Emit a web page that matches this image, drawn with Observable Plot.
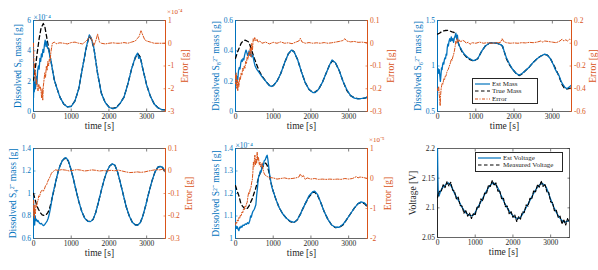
<!DOCTYPE html>
<html><head><meta charset="utf-8">
<script src="https://cdn.jsdelivr.net/npm/d3@7"></script>
<script src="https://cdn.jsdelivr.net/npm/@observablehq/plot@0.6"></script>
<style>
body{margin:0;background:#fff;}
#root{position:relative;width:598px;height:270px;overflow:hidden;background:#fff;font-family:"Liberation Serif",serif;}
#root svg.plot-layer{position:absolute;left:0;top:0;font-family:"Liberation Serif",serif !important;}
#root svg.plot-layer text, #root svg.plot-layer tspan, #root svg.plot-layer g{font-family:"Liberation Serif",serif !important;font-weight:normal !important;}
.lg{position:absolute;background:#fff;border:0.8px solid #262626;font:7px "Liberation Serif",serif;color:#262626;box-sizing:border-box;padding:1px 2px;z-index:5;}
.lg .row{display:flex;align-items:center;height:7.6px;white-space:nowrap;}
.lg svg{margin-right:2px;}
</style></head><body><div id="root"></div>
<script>
// ---------- data ----------
const xTicks = [0, 1000, 2000, 3000];
const xDomain = [0, 3500];

// Panel 1: S8 (x1e-4 g), error (x1e-4 g)
const p1True = [[0,2.0],[50,2.9],[100,3.9],[150,4.8],[200,5.5],[260,5.8],[300,5.6],[350,4.9],[400,4.2],[450,3.5],[500,2.8],[550,2.1],[600,1.7],[700,0.95],[800,0.5],[900,0.3],[1000,0.35],[1100,0.7],[1200,1.5],[1300,2.9],[1400,4.2],[1470,4.95],[1530,4.8],[1600,4.2],[1700,2.5],[1800,1.2],[1900,0.6],[2000,0.3],[2100,0.2],[2200,0.28],[2300,0.55],[2400,0.95],[2500,1.8],[2600,2.8],[2700,3.55],[2770,3.8],[2830,3.6],[2900,2.8],[3000,1.75],[3100,1.0],[3200,0.5],[3300,0.25],[3400,0.12],[3500,0.1]];
const p1Est = [[0,0.9],[10,2.0],[20,1.3],[35,1.9],[50,1.5],[70,2.3],[90,1.8],[110,2.7],[130,3.0],[150,2.8],[170,3.5],[190,3.3],[210,3.8],[230,3.6],[250,4.1],[270,3.9],[290,4.4],[310,4.7],[330,4.3],[350,4.6],[370,4.2],[400,4.1],[430,3.7],[460,3.4],[500,2.8],[550,2.1],[600,1.7],[700,0.95],[800,0.5],[900,0.3],[1000,0.33],[1100,0.7],[1200,1.5],[1300,2.9],[1400,4.25],[1480,5.05],[1530,4.85],[1600,4.2],[1700,2.5],[1800,1.2],[1900,0.6],[2000,0.28],[2100,0.18],[2200,0.26],[2300,0.55],[2400,0.95],[2500,1.8],[2600,2.8],[2700,3.6],[2760,3.85],[2790,3.5],[2820,3.6],[2850,3.35],[2900,2.8],[3000,1.75],[3100,1.0],[3200,0.5],[3300,0.25],[3400,0.12],[3500,0.1]];
const p1Err = [[0,0.0],[8,-0.6],[15,-1.1],[25,-0.9],[40,-1.5],[55,-1.3],[70,-1.8],[85,-1.6],[100,-2.0],[120,-2.1],[140,-1.8],[160,-2.0],[180,-1.9],[200,-2.1],[215,-2.4],[230,-2.0],[245,-2.5],[260,-1.9],[280,-1.6],[300,-1.3],[320,-1.5],[340,-1.0],[360,-1.2],[380,-0.8],[400,-1.0],[420,-0.7],[440,-0.8],[460,-0.4],[480,-0.2],[500,0.0],[550,0.05],[600,-0.02],[700,0.02],[800,0.0],[900,-0.03],[1000,0.03],[1100,0.05],[1200,0.0],[1300,-0.03],[1400,0.1],[1450,0.2],[1500,0.3],[1550,0.15],[1600,-0.1],[1650,0.1],[1700,0.4],[1750,0.05],[1800,0.0],[1900,-0.03],[2000,0.0],[2100,0.02],[2200,0.0],[2300,0.0],[2400,0.03],[2500,0.0],[2600,0.05],[2700,0.1],[2750,0.2],[2800,0.3],[2850,0.55],[2900,0.35],[2950,0.15],[3000,0.1],[3100,0.05],[3200,0.0],[3300,0.0],[3400,0.0],[3500,0.0]];

// Panel 2: S8 2- (g)
const p2True = [[0,0.35],[50,0.39],[100,0.42],[150,0.45],[200,0.465],[250,0.47],[300,0.465],[340,0.46],[380,0.44],[420,0.41],[460,0.38],[500,0.35],[560,0.31],[620,0.27],[700,0.235],[800,0.2],[900,0.172],[950,0.167],[1000,0.17],[1100,0.2],[1200,0.25],[1300,0.32],[1400,0.38],[1490,0.405],[1550,0.395],[1650,0.34],[1750,0.26],[1850,0.19],[1950,0.145],[2050,0.127],[2100,0.126],[2200,0.145],[2300,0.19],[2400,0.25],[2500,0.31],[2570,0.335],[2650,0.32],[2750,0.27],[2850,0.2],[2950,0.14],[3050,0.105],[3150,0.09],[3250,0.085],[3350,0.085],[3450,0.09],[3500,0.095]];
const p2Est = [[0,0.2],[15,0.24],[30,0.19],[45,0.23],[60,0.21],[80,0.27],[100,0.29],[120,0.28],[140,0.32],[160,0.34],[180,0.33],[200,0.35],[220,0.34],[240,0.37],[260,0.39],[280,0.405],[300,0.39],[320,0.37],[340,0.38],[360,0.4],[380,0.37],[400,0.39],[430,0.36],[460,0.37],[490,0.33],[520,0.3],[560,0.28],[620,0.26],[700,0.23],[800,0.2],[900,0.17],[950,0.165],[1000,0.17],[1100,0.2],[1200,0.25],[1300,0.32],[1400,0.38],[1480,0.405],[1550,0.395],[1650,0.34],[1750,0.26],[1850,0.19],[1950,0.145],[2050,0.125],[2100,0.124],[2200,0.145],[2300,0.19],[2400,0.25],[2500,0.31],[2560,0.34],[2650,0.322],[2750,0.27],[2850,0.2],[2950,0.145],[3050,0.105],[3150,0.088],[3250,0.083],[3350,0.086],[3450,0.09],[3500,0.095]];
const p2Err = [[0,-0.14],[10,-0.18],[20,-0.13],[35,-0.2],[50,-0.16],[60,-0.21],[75,-0.17],[90,-0.19],[110,-0.15],[130,-0.16],[150,-0.13],[170,-0.14],[190,-0.11],[210,-0.12],[230,-0.1],[250,-0.11],[270,-0.08],[290,-0.09],[310,-0.06],[330,-0.07],[350,-0.04],[370,-0.05],[390,-0.02],[410,-0.06],[430,0.0],[450,-0.03],[470,0.02],[490,0.01],[510,0.025],[540,0.01],[570,0.018],[600,0.005],[650,0.01],[700,0.0],[800,0.005],[900,-0.003],[1000,0.004],[1100,0.0],[1200,0.006],[1300,0.0],[1400,0.002],[1500,-0.002],[1600,0.005],[1680,0.01],[1720,0.022],[1760,0.006],[1850,0.0],[1950,0.003],[2050,0.0],[2150,0.002],[2250,0.0],[2350,0.003],[2450,0.0],[2550,0.002],[2650,0.005],[2750,0.008],[2850,0.012],[2900,0.02],[2950,0.01],[3050,0.006],[3150,0.008],[3250,0.004],[3350,0.005],[3500,0.002]];

// Panel 3: S6 2- (g)
const p3True = [[0,1.35],[50,1.36],[100,1.375],[150,1.385],[200,1.39],[260,1.392],[320,1.385],[380,1.375],[430,1.37],[480,1.33],[530,1.27],[580,1.21],[650,1.15],[750,1.1],[850,1.07],[950,1.055],[1050,1.08],[1150,1.16],[1250,1.22],[1350,1.25],[1450,1.255],[1550,1.25],[1650,1.235],[1700,1.215],[1750,1.15],[1800,1.08],[1870,1.02],[1950,0.97],[2050,0.92],[2130,0.895],[2200,0.91],[2300,0.95],[2400,0.99],[2500,1.04],[2600,1.08],[2700,1.11],[2800,1.125],[2870,1.12],[2950,1.08],[3050,1.0],[3150,0.91],[3250,0.8],[3320,0.75],[3400,0.75],[3500,0.76]];
const p3Est = [[0,0.95],[15,0.97],[30,0.92],[45,0.96],[60,0.9],[75,0.83],[90,0.9],[105,0.98],[120,0.96],[135,1.02],[150,1.04],[165,1.02],[180,1.07],[195,1.09],[210,1.08],[225,1.13],[240,1.12],[255,1.2],[270,1.24],[285,1.22],[300,1.27],[320,1.3],[340,1.27],[360,1.32],[380,1.28],[400,1.3],[420,1.26],[440,1.31],[460,1.33],[480,1.36],[500,1.3],[520,1.34],[540,1.26],[570,1.22],[600,1.2],[650,1.16],[700,1.13],[750,1.11],[800,1.09],[850,1.08],[900,1.065],[950,1.06],[1050,1.08],[1150,1.16],[1250,1.22],[1350,1.25],[1450,1.255],[1550,1.25],[1650,1.235],[1700,1.22],[1750,1.15],[1800,1.09],[1870,1.03],[1950,0.97],[2050,0.92],[2130,0.9],[2200,0.915],[2300,0.95],[2400,0.99],[2500,1.04],[2600,1.08],[2700,1.11],[2800,1.13],[2870,1.12],[2950,1.08],[3030,1.01],[3080,0.96],[3120,0.93],[3170,0.9],[3220,0.84],[3270,0.8],[3320,0.77],[3380,0.75],[3440,0.77],[3500,0.79]];
const p3Err = [[0,-0.4],[15,-0.42],[30,-0.38],[45,-0.45],[60,-0.5],[70,-0.55],[80,-0.46],[95,-0.4],[110,-0.37],[125,-0.35],[140,-0.36],[155,-0.33],[170,-0.31],[185,-0.32],[200,-0.29],[220,-0.29],[240,-0.26],[260,-0.24],[280,-0.23],[300,-0.21],[320,-0.19],[340,-0.17],[360,-0.14],[380,-0.15],[400,-0.12],[420,-0.1],[440,-0.07],[460,-0.03],[480,0.02],[500,0.0],[520,0.04],[540,0.01],[570,0.03],[600,0.01],[650,0.025],[700,0.02],[750,0.0],[800,0.01],[850,-0.01],[900,0.005],[1000,0.0],[1100,0.01],[1200,0.0],[1300,0.005],[1400,0.0],[1500,0.003],[1600,0.005],[1650,0.01],[1690,0.04],[1730,0.015],[1800,0.005],[1900,0.0],[2000,0.003],[2100,0.0],[2200,0.005],[2300,0.003],[2400,0.008],[2500,0.005],[2600,0.01],[2700,0.02],[2750,0.01],[2800,0.02],[2900,0.015],[3000,0.01],[3100,0.005],[3200,0.02],[3250,0.035],[3300,0.02],[3350,0.03],[3400,0.02],[3450,0.035],[3500,0.03]];

// Panel 4: S4 2- (g)
const p4True = [[0,1.0],[40,0.95],[80,0.9],[130,0.86],[180,0.83],[230,0.81],[280,0.805],[330,0.81],[380,0.83],[420,0.86],[460,0.91],[500,0.97],[550,1.04],[600,1.12],[650,1.19],[700,1.245],[760,1.29],[820,1.31],[860,1.312],[920,1.29],[980,1.23],[1050,1.14],[1120,1.04],[1200,0.93],[1280,0.84],[1360,0.78],[1440,0.755],[1510,0.752],[1580,0.77],[1650,0.83],[1720,0.92],[1800,1.03],[1880,1.13],[1950,1.2],[2020,1.245],[2090,1.262],[2160,1.25],[2230,1.19],[2300,1.1],[2380,0.99],[2460,0.88],[2540,0.8],[2620,0.745],[2700,0.722],[2760,0.72],[2830,0.74],[2900,0.8],[2980,0.9],[3060,1.01],[3140,1.11],[3220,1.19],[3300,1.235],[3360,1.242],[3420,1.23],[3470,1.2],[3500,1.18]];
const p4Est = [[0,0.95],[10,0.78],[20,0.86],[30,0.72],[45,0.8],[60,0.76],[80,0.77],[100,0.75],[120,0.76],[150,0.74],[180,0.73],[210,0.735],[240,0.72],[270,0.715],[300,0.725],[330,0.74],[360,0.755],[390,0.78],[420,0.82],[450,0.87],[480,0.93],[510,0.99],[550,1.05],[600,1.12],[650,1.19],[700,1.245],[760,1.29],[820,1.315],[860,1.318],[920,1.295],[980,1.23],[1050,1.14],[1120,1.04],[1200,0.93],[1280,0.84],[1360,0.78],[1440,0.752],[1510,0.75],[1580,0.77],[1650,0.83],[1720,0.92],[1800,1.03],[1880,1.13],[1950,1.2],[2020,1.245],[2090,1.265],[2160,1.25],[2230,1.19],[2300,1.1],[2380,0.99],[2460,0.88],[2540,0.8],[2620,0.745],[2700,0.72],[2760,0.718],[2830,0.74],[2900,0.8],[2980,0.9],[3060,1.01],[3140,1.11],[3220,1.19],[3300,1.235],[3360,1.24],[3420,1.235],[3470,1.21],[3500,1.19]];
const p4Err = [[0,-0.13],[8,-0.2],[16,-0.15],[25,-0.21],[35,-0.17],[50,-0.19],[65,-0.15],[80,-0.16],[100,-0.14],[120,-0.13],[140,-0.11],[160,-0.115],[180,-0.1],[200,-0.09],[230,-0.085],[260,-0.09],[290,-0.08],[320,-0.065],[350,-0.06],[380,-0.045],[410,-0.035],[440,-0.025],[470,-0.012],[500,-0.005],[540,0.0],[580,0.005],[650,0.003],[750,0.006],[850,0.004],[950,0.0],[1050,0.003],[1150,0.006],[1250,0.004],[1350,0.0],[1450,0.002],[1550,0.005],[1650,0.003],[1750,0.0],[1850,0.002],[1950,0.0],[2050,0.003],[2150,0.001],[2250,0.004],[2350,0.0],[2450,-0.004],[2550,-0.007],[2650,-0.006],[2750,-0.004],[2850,-0.006],[2950,-0.004],[3050,0.0],[3150,0.003],[3250,0.006],[3350,0.005],[3420,0.008],[3500,0.004]];

// Panel 5: S 2- (x1e-4 g), error (x1e-5 g)
const p5True = [[0,1.235],[45,1.21],[90,1.19],[135,1.16],[180,1.145],[230,1.135],[270,1.13],[320,1.135],[360,1.145],[400,1.16],[440,1.175],[490,1.2],[530,1.22],[580,1.25],[620,1.275],[670,1.3],[710,1.315],[760,1.33],[800,1.335],[840,1.325],[880,1.3],[930,1.255],[1000,1.21],[1070,1.175],[1150,1.14],[1250,1.11],[1350,1.09],[1450,1.075],[1550,1.07],[1650,1.085],[1750,1.12],[1850,1.155],[1950,1.185],[2050,1.205],[2100,1.206],[2180,1.19],[2260,1.16],[2350,1.12],[2450,1.085],[2550,1.06],[2650,1.048],[2750,1.05],[2850,1.06],[2950,1.085],[3050,1.11],[3150,1.135],[3250,1.155],[3330,1.16],[3420,1.155],[3500,1.14]];
const p5Est = [[0,1.05],[15,1.055],[30,1.045],[50,1.052],[70,1.04],[90,1.035],[110,1.05],[130,1.047],[150,1.055],[170,1.05],[200,1.06],[230,1.058],[260,1.065],[290,1.063],[320,1.07],[350,1.066],[380,1.08],[400,1.1],[420,1.095],[440,1.11],[460,1.12],[480,1.125],[500,1.13],[520,1.14],[540,1.15],[560,1.19],[580,1.22],[600,1.26],[620,1.28],[640,1.285],[660,1.3],[680,1.295],[700,1.32],[720,1.33],[740,1.325],[760,1.345],[790,1.35],[820,1.365],[840,1.37],[860,1.35],[880,1.32],[900,1.29],[930,1.26],[960,1.23],[1000,1.21],[1070,1.175],[1150,1.14],[1250,1.11],[1350,1.09],[1450,1.077],[1550,1.072],[1620,1.08],[1660,1.09],[1690,1.1],[1720,1.105],[1750,1.12],[1850,1.155],[1950,1.19],[2050,1.208],[2100,1.21],[2180,1.195],[2260,1.16],[2350,1.12],[2450,1.085],[2550,1.06],[2650,1.05],[2750,1.05],[2850,1.063],[2950,1.085],[3050,1.11],[3150,1.135],[3250,1.155],[3330,1.163],[3420,1.158],[3500,1.145]];
const p5Err = [[0,-1.55],[15,-1.45],[30,-1.5],[50,-1.38],[70,-1.42],[90,-1.3],[110,-1.33],[130,-1.22],[150,-1.25],[170,-1.12],[190,-1.15],[210,-1.02],[230,-1.05],[250,-0.92],[270,-0.95],[290,-0.85],[310,-0.79],[330,-0.6],[350,-0.46],[370,-0.5],[390,-0.35],[410,-0.3],[430,-0.12],[445,-0.05],[460,0.2],[475,0.55],[490,0.4],[505,0.7],[515,0.78],[530,0.45],[545,0.65],[560,0.5],[575,0.88],[590,0.6],[610,0.7],[630,0.45],[650,0.55],[670,0.38],[690,0.5],[710,0.52],[730,0.3],[750,0.2],[780,0.12],[800,0.1],[850,0.06],[900,0.03],[1000,0.02],[1100,-0.02],[1200,0.0],[1300,0.02],[1400,-0.01],[1500,0.0],[1600,0.02],[1680,0.05],[1720,0.15],[1760,0.05],[1800,0.1],[1850,-0.03],[1900,0.02],[2000,-0.02],[2100,0.0],[2200,-0.03],[2300,-0.02],[2400,-0.03],[2500,-0.02],[2600,-0.03],[2700,-0.02],[2800,-0.03],[2900,0.0],[3000,-0.02],[3100,0.0],[3200,0.06],[3250,0.02],[3300,0.05],[3400,0.03],[3500,0.0]];

// Panel 6: voltage (V)
const p6Est = [[0,2.2],[10,2.15],[20,2.125],[40,2.12],[80,2.128],[130,2.134],[180,2.137],[230,2.14],[280,2.142],[330,2.14],[380,2.135],[430,2.127],[480,2.121],[530,2.115],[580,2.11],[630,2.103],[680,2.098],[730,2.093],[780,2.09],[830,2.088],[880,2.087],[930,2.087],[980,2.09],[1030,2.096],[1080,2.102],[1130,2.108],[1180,2.114],[1230,2.12],[1280,2.126],[1330,2.132],[1380,2.137],[1430,2.14],[1480,2.142],[1530,2.14],[1580,2.136],[1630,2.13],[1680,2.122],[1730,2.115],[1780,2.108],[1830,2.102],[1880,2.097],[1930,2.092],[1980,2.088],[2030,2.085],[2080,2.083],[2130,2.082],[2180,2.083],[2230,2.087],[2280,2.092],[2330,2.098],[2380,2.104],[2430,2.11],[2480,2.116],[2530,2.122],[2580,2.128],[2630,2.133],[2680,2.137],[2730,2.14],[2780,2.141],[2830,2.139],[2880,2.135],[2930,2.127],[2980,2.118],[3030,2.11],[3080,2.102],[3130,2.095],[3180,2.089],[3230,2.084],[3280,2.08],[3330,2.077],[3380,2.076],[3430,2.077],[3480,2.078],[3500,2.079]];
const p6Meas = [[0,2.117],[50,2.128],[100,2.128],[150,2.139],[200,2.134],[250,2.144],[300,2.137],[350,2.143],[400,2.130],[450,2.128],[500,2.115],[550,2.118],[600,2.104],[650,2.103],[700,2.091],[750,2.096],[800,2.086],[850,2.091],[900,2.082],[950,2.090],[1000,2.088],[1050,2.102],[1100,2.101],[1150,2.115],[1200,2.112],[1250,2.125],[1300,2.124],[1350,2.138],[1400,2.136],[1450,2.146],[1500,2.138],[1550,2.142],[1600,2.128],[1650,2.129],[1700,2.115],[1750,2.116],[1800,2.102],[1850,2.103],[1900,2.090],[1950,2.094],[2000,2.084],[2050,2.088],[2100,2.077],[2150,2.085],[2200,2.081],[2250,2.093],[2300,2.092],[2350,2.105],[2400,2.103],[2450,2.116],[2500,2.115],[2550,2.129],[2600,2.127],[2650,2.139],[2700,2.135],[2750,2.145],[2800,2.136],[2850,2.140],[2900,2.127],[2950,2.126],[3000,2.110],[3050,2.109],[3100,2.095],[3150,2.096],[3200,2.084],[3250,2.086],[3300,2.073],[3350,2.080],[3400,2.071],[3450,2.082],[3500,2.076]];

// ---------- drawing ----------
const W = 598, H = 270;
const BLUE = "#0072BD", ORANGE = "#D95319", INK = "#262626";
const FONT = '"Liberation Serif", serif';
const root = document.getElementById("root");
const pts = a => a.map(([t, v]) => ({t, v}));
const fmt = d => String(d);

function layer(f, yDomain, marks) {
  const svg = Plot.plot({
    width: W, height: H,
    marginLeft: f[0], marginRight: W - f[1], marginTop: f[2], marginBottom: H - f[3],
    x: {domain: xDomain, axis: null},
    y: {domain: yDomain, axis: null},
    style: {background: "transparent", overflow: "visible", fontFamily: FONT, fontSize: "7.5px"},
    marks
  });
  svg.classList.add("plot-layer");
  root.appendChild(svg);
}

function xAxisMarks() {
  return [
    Plot.axisX(xTicks, {anchor: "bottom", tickSize: -2.5, tickPadding: 5, color: INK, label: null, tickFormat: fmt, strokeWidth: 0.6, fontFamily: FONT}),
    Plot.axisX(xTicks, {anchor: "top", tickSize: -2.5, color: INK, label: null, tickFormat: () => "", strokeWidth: 0.6}),
    Plot.text(["time [s]"], {text: d => d, frameAnchor: "bottom", textAnchor: "middle", dy: 17.5, fill: INK, fontSize: 9.5, fontFamily: FONT})
  ];
}

function panel(cfg) {
  const f = cfg.frame;
  layer(f, cfg.lDomain, [
    Plot.frame({stroke: INK, strokeWidth: 0.7}),
    ...xAxisMarks(),
    Plot.axisY(cfg.lTicks, {anchor: "left", tickSize: -2.5, tickPadding: 5, color: cfg.lColor, label: null, tickFormat: fmt, strokeWidth: 0.6, fontFamily: FONT}),
    ...(cfg.rDomain ? [] : [Plot.axisY(cfg.lTicks, {anchor: "right", tickSize: -2.5, color: INK, label: null, tickFormat: () => "", strokeWidth: 0.6})]),
    Plot.ruleX([xDomain[0]], {stroke: cfg.lColor, strokeWidth: 1}),
    ...cfg.lLines.map(L => Plot.line(pts(L.data), {x: "t", y: "v", stroke: L.stroke, strokeWidth: L.width, strokeDasharray: L.dash, clip: true})),
    Plot.text([cfg.lLabel], {text: d => d, frameAnchor: "left", textAnchor: "middle", dx: cfg.lLabelDx, rotate: -90, fill: cfg.lColor, fontSize: 9.5, fontFamily: FONT}),
    ...(cfg.lExp ? [Plot.text([cfg.lExp], {text: d => d, frameAnchor: "top-left", dy: -6, textAnchor: "start", fill: cfg.lColor, fontSize: 7.5, fontFamily: FONT})] : [])
  ]);
  if (!cfg.rDomain) return;
  layer(f, cfg.rDomain, [
    Plot.axisY(cfg.rTicks, {anchor: "right", tickSize: -2.5, tickPadding: 5, color: ORANGE, label: null, tickFormat: fmt, strokeWidth: 0.6, fontFamily: FONT}),
    Plot.ruleX([xDomain[1]], {stroke: ORANGE, strokeWidth: 1}),
    Plot.line(pts(cfg.err), {x: "t", y: "v", stroke: ORANGE, strokeWidth: 1, strokeDasharray: "3.5,1.5,1,1.5", clip: true}),
    Plot.text(["Error [g]"], {text: d => d, frameAnchor: "right", textAnchor: "middle", dx: cfg.rLabelDx, rotate: -90, fill: ORANGE, fontSize: 9.5, fontFamily: FONT}),
    ...(cfg.rExp ? [Plot.text([cfg.rExp], {text: d => d, frameAnchor: "top-right", dy: -11.5, dx: 1.5, textAnchor: "start", fill: ORANGE, fontSize: 7, fontFamily: FONT})] : [])
  ]);
}

const massLines = (est, tru) => [
  {data: tru, stroke: "#000", width: 1.3, dash: "4,3"},
  {data: est, stroke: BLUE, width: 1.3, dash: null}
];

panel({frame: [33, 165, 20, 111], lDomain: [0, 6], lTicks: [0, 2, 4, 6], lColor: BLUE,
  lLabel: "Dissolved S₈ mass [g]", lLabelDx: -16, lExp: "×10⁻⁴",
  lLines: massLines(p1Est, p1True),
  rDomain: [-3, 1], rTicks: [-3, -2, -1, 0, 1], err: p1Err, rLabelDx: 19, rExp: "×10⁻⁴"});
panel({frame: [235, 367, 20, 111], lDomain: [0, 0.6], lTicks: [0, 0.2, 0.4, 0.6], lColor: BLUE,
  lLabel: "Dissolved S₈²⁻ mass [g]", lLabelDx: -20,
  lLines: massLines(p2Est, p2True),
  rDomain: [-0.3, 0.1], rTicks: [-0.3, -0.2, -0.1, 0, 0.1], err: p2Err, rLabelDx: 23});
panel({frame: [437, 571, 20, 111], lDomain: [0.5, 1.5], lTicks: [0.5, 1, 1.5], lColor: BLUE,
  lLabel: "Dissolved S₆²⁻ mass [g]", lLabelDx: -20,
  lLines: massLines(p3Est, p3True),
  rDomain: [-0.6, 0.2], rTicks: [-0.6, -0.4, -0.2, 0, 0.2], err: p3Err, rLabelDx: 21});
panel({frame: [33, 165, 148, 238], lDomain: [0.6, 1.4], lTicks: [0.6, 0.8, 1, 1.2, 1.4], lColor: BLUE,
  lLabel: "Dissolved S₄²⁻ mass [g]", lLabelDx: -21,
  lLines: massLines(p4Est, p4True),
  rDomain: [-0.3, 0.1], rTicks: [-0.3, -0.2, -0.1, 0, 0.1], err: p4Err, rLabelDx: 23});
panel({frame: [235, 367, 148, 238], lDomain: [1, 1.4], lTicks: [1, 1.1, 1.2, 1.3, 1.4], lColor: BLUE,
  lLabel: "Dissolved S²⁻ mass [g]", lLabelDx: -20, lExp: "×10⁻⁴",
  lLines: massLines(p5Est, p5True),
  rDomain: [-2, 1], rTicks: [-2, -1, 0, 1], err: p5Err, rLabelDx: 20, rExp: "×10⁻⁵"});
panel({frame: [437, 569, 148, 237], lDomain: [2.05, 2.2], lTicks: [2.05, 2.1, 2.15, 2.2], lColor: INK,
  lLabel: "Voltage [V]", lLabelDx: -25,
  lLines: [
    {data: p6Est, stroke: BLUE, width: 1.3, dash: null},
    {data: p6Meas, stroke: "#000", width: 1.1, dash: "3,1.5"}
  ]});

// ---------- legends ----------
function legend(left, top, width, height, items) {
  const div = document.createElement("div");
  div.className = "lg";
  Object.assign(div.style, {left: left + "px", top: top + "px", width: width + "px", height: height + "px"});
  for (const it of items) {
    const row = document.createElement("div");
    row.className = "row";
    row.innerHTML = `<svg width="${it.w}" height="6"><line x1="0" y1="3" x2="${it.w}" y2="3" stroke="${it.stroke}" stroke-width="1.2" ${it.dash ? `stroke-dasharray="${it.dash}"` : ""}/></svg><span>${it.label}</span>`;
    div.appendChild(row);
  }
  root.appendChild(div);
}
legend(472, 78, 66, 26, [
  {label: "Est Mass", stroke: BLUE, w: 15},
  {label: "True Mass", stroke: "#000", dash: "3.5,2.5", w: 15},
  {label: "Error", stroke: ORANGE, dash: "3,1.5,1,1.5", w: 15}
]);
legend(475, 152, 88, 20, [
  {label: "Est Voltage", stroke: BLUE, w: 23},
  {label: "Measured Voltage", stroke: "#000", dash: "3.5,2.5", w: 23}
]);
</script>
</body></html>
